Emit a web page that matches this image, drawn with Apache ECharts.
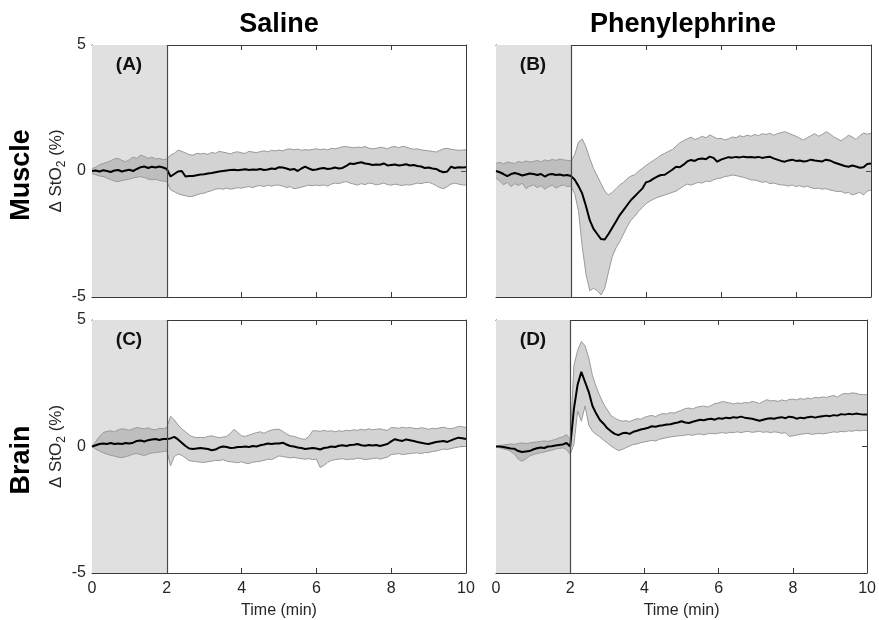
<!DOCTYPE html>
<html>
<head>
<meta charset="utf-8">
<script src="https://cdn.jsdelivr.net/npm/echarts@6/dist/echarts.min.js"></script>
<style>html,body{margin:0;padding:0;background:#fff}#c{width:879px;height:620px}</style>
</head>
<body>
<div id="c"></div>
<script>
// ---- data (ΔStO2 in %, sampled every 0.1 min from 0 to 10 min) ----
const TIME_STEP = 0.1;
const N_SAMPLES = 101;
const X_TICKS = [0, 2, 4, 6, 8, 10];
const Y_TICKS = [-5, 0, 5];
const COL_TITLES = ['Saline', 'Phenylephrine'];
const ROW_TITLES = ['Muscle', 'Brain'];
const PANEL_LABELS = ['(A)', '(B)', '(C)', '(D)'];
const BASELINE_END = 2;

const A_MEAN = [0.00,0.02,-0.02,0.03,0.00,-0.04,0.02,0.04,-0.02,0.02,
0.05,0.00,0.08,0.15,0.18,0.12,0.17,0.14,0.18,0.14,
0.08,-0.22,-0.12,-0.02,0.00,-0.22,-0.20,-0.20,-0.17,-0.14,
-0.13,-0.10,-0.08,-0.05,-0.02,0.00,0.02,0.04,0.05,0.03,
0.05,0.07,0.04,0.06,0.05,0.08,0.04,0.06,0.10,0.08,
0.15,0.14,0.10,0.05,0.08,0.00,0.10,0.17,0.10,0.04,
0.06,0.10,0.12,0.08,0.10,0.14,0.10,0.12,0.20,0.30,
0.28,0.32,0.35,0.30,0.28,0.24,0.26,0.25,0.30,0.22,
0.24,0.26,0.22,0.24,0.27,0.22,0.24,0.20,0.18,0.12,
0.14,0.10,0.08,0.00,-0.05,-0.02,0.17,0.12,0.15,0.14,
0.15];
const A_UPPER = [0.10,0.15,0.25,0.30,0.35,0.40,0.48,0.50,0.42,0.37,
0.45,0.55,0.50,0.63,0.58,0.50,0.55,0.48,0.50,0.45,
0.47,0.63,0.70,0.83,0.78,0.72,0.65,0.63,0.70,0.68,
0.70,0.66,0.74,0.70,0.78,0.75,0.72,0.68,0.74,0.76,
0.72,0.70,0.78,0.75,0.73,0.77,0.80,0.76,0.82,0.80,
0.83,0.80,0.86,0.88,0.84,0.87,0.82,0.85,0.83,0.86,
0.88,0.85,0.87,0.84,0.90,0.88,0.92,0.96,0.97,0.94,
0.92,0.95,0.93,0.97,0.91,0.88,0.90,0.94,0.92,0.88,
0.95,0.97,0.92,0.98,0.95,0.90,0.86,0.88,0.84,0.82,
0.80,0.78,0.75,0.82,0.88,0.90,0.86,0.84,0.82,0.83,
0.84];
const A_LOWER = [-0.10,-0.15,-0.20,-0.22,-0.28,-0.34,-0.40,-0.42,-0.38,-0.35,
-0.32,-0.28,-0.25,-0.22,-0.26,-0.32,-0.35,-0.33,-0.38,-0.40,
-0.42,-0.75,-0.82,-0.90,-0.95,-0.98,-1.02,-1.00,-0.95,-0.90,
-0.88,-0.82,-0.78,-0.72,-0.70,-0.72,-0.68,-0.72,-0.70,-0.66,
-0.68,-0.64,-0.62,-0.66,-0.60,-0.58,-0.62,-0.56,-0.60,-0.56,
-0.56,-0.60,-0.66,-0.62,-0.70,-0.68,-0.64,-0.60,-0.56,-0.58,
-0.56,-0.58,-0.55,-0.60,-0.52,-0.48,-0.50,-0.45,-0.42,-0.48,
-0.52,-0.56,-0.50,-0.54,-0.48,-0.50,-0.55,-0.52,-0.48,-0.54,
-0.56,-0.52,-0.55,-0.58,-0.54,-0.56,-0.52,-0.48,-0.50,-0.46,
-0.45,-0.50,-0.58,-0.66,-0.70,-0.62,-0.52,-0.48,-0.52,-0.55,
-0.56];

const B_MEAN = [0.00,-0.05,-0.12,-0.20,-0.12,-0.08,-0.12,-0.18,-0.14,-0.10,
-0.12,-0.16,-0.12,-0.22,-0.14,-0.12,-0.16,-0.14,-0.18,-0.16,
-0.20,-0.35,-0.60,-0.90,-1.40,-1.95,-2.30,-2.50,-2.70,-2.72,
-2.50,-2.25,-2.00,-1.75,-1.55,-1.35,-1.15,-1.00,-0.85,-0.70,
-0.45,-0.40,-0.30,-0.22,-0.16,-0.15,-0.05,0.05,0.17,0.15,
0.25,0.38,0.44,0.40,0.48,0.50,0.47,0.57,0.52,0.37,
0.45,0.50,0.55,0.53,0.56,0.54,0.57,0.55,0.56,0.54,
0.56,0.52,0.55,0.57,0.50,0.45,0.40,0.37,0.42,0.45,
0.40,0.42,0.38,0.40,0.45,0.42,0.40,0.38,0.45,0.42,
0.35,0.30,0.25,0.20,0.17,0.22,0.18,0.13,0.15,0.28,
0.30];
const B_UPPER = [0.30,0.35,0.28,0.36,0.32,0.30,0.38,0.34,0.40,0.36,
0.38,0.42,0.36,0.44,0.40,0.46,0.42,0.48,0.44,0.42,
0.40,0.65,1.15,1.27,0.95,0.50,0.10,-0.20,-0.50,-0.80,
-0.95,-0.85,-0.70,-0.55,-0.45,-0.30,-0.20,-0.15,0.00,0.10,
0.22,0.32,0.42,0.52,0.63,0.70,0.78,0.85,0.98,1.12,
1.20,1.28,1.34,1.25,1.30,1.38,1.32,1.43,1.36,1.28,
1.30,1.23,1.28,1.35,1.32,1.40,1.36,1.42,1.38,1.45,
1.40,1.48,1.45,1.50,1.42,1.48,1.52,1.56,1.50,1.44,
1.38,1.30,1.23,1.32,1.40,1.48,1.38,1.45,1.56,1.48,
1.36,1.28,1.20,1.30,1.42,1.35,1.25,1.40,1.50,1.46,
1.50];
const B_LOWER = [-0.28,-0.40,-0.55,-0.45,-0.62,-0.50,-0.58,-0.48,-0.70,-0.60,
-0.55,-0.66,-0.58,-0.72,-0.62,-0.56,-0.68,-0.60,-0.55,-0.62,
-0.60,-0.90,-1.60,-3.00,-4.10,-4.75,-4.65,-4.75,-4.92,-4.65,
-4.00,-3.40,-3.05,-2.80,-2.50,-2.20,-1.95,-1.80,-1.60,-1.45,
-1.30,-1.20,-1.12,-1.05,-1.00,-0.95,-0.90,-0.85,-0.80,-0.70,
-0.60,-0.52,-0.56,-0.50,-0.45,-0.48,-0.40,-0.42,-0.35,-0.30,
-0.28,-0.22,-0.20,-0.16,-0.18,-0.22,-0.25,-0.30,-0.35,-0.36,
-0.40,-0.45,-0.42,-0.50,-0.48,-0.52,-0.55,-0.56,-0.60,-0.55,
-0.62,-0.58,-0.64,-0.60,-0.66,-0.70,-0.68,-0.72,-0.70,-0.75,
-0.78,-0.82,-0.80,-0.88,-0.85,-0.95,-0.90,-0.85,-0.95,-0.80,
-0.75];

const C_MEAN = [0.00,0.05,0.10,0.12,0.10,0.14,0.10,0.12,0.10,0.14,
0.12,0.15,0.22,0.24,0.20,0.25,0.28,0.30,0.26,0.30,
0.30,0.32,0.38,0.28,0.15,0.02,-0.08,-0.10,-0.08,-0.06,
-0.08,-0.10,-0.15,-0.12,-0.04,0.00,-0.02,-0.06,-0.05,-0.02,
-0.02,0.00,-0.02,0.02,0.00,0.05,0.08,0.12,0.10,0.12,
0.12,0.15,0.08,0.02,0.00,-0.04,-0.06,-0.10,-0.08,-0.06,
-0.08,-0.12,-0.06,-0.04,0.00,-0.02,0.03,0.05,0.02,0.06,
0.07,0.10,0.05,0.03,0.06,0.04,0.06,0.02,0.06,0.10,
0.20,0.29,0.25,0.22,0.28,0.25,0.22,0.18,0.15,0.12,
0.10,0.14,0.18,0.20,0.22,0.18,0.24,0.30,0.35,0.33,
0.30];
const C_UPPER = [0.00,0.20,0.40,0.55,0.60,0.62,0.58,0.66,0.70,0.68,
0.64,0.70,0.75,0.72,0.70,0.74,0.68,0.66,0.72,0.70,
0.75,1.20,1.05,0.85,0.70,0.58,0.45,0.38,0.35,0.36,
0.35,0.40,0.42,0.38,0.35,0.37,0.40,0.52,0.68,0.55,
0.42,0.40,0.45,0.50,0.55,0.58,0.52,0.60,0.65,0.68,
0.68,0.60,0.50,0.42,0.40,0.35,0.30,0.29,0.40,0.62,
0.62,0.60,0.64,0.60,0.62,0.58,0.62,0.60,0.64,0.62,
0.66,0.64,0.68,0.65,0.70,0.66,0.68,0.70,0.66,0.64,
0.75,0.74,0.72,0.76,0.73,0.75,0.72,0.70,0.74,0.72,
0.68,0.72,0.70,0.74,0.76,0.72,0.70,0.74,0.80,0.78,
0.75];
const C_LOWER = [0.00,-0.10,-0.18,-0.25,-0.30,-0.35,-0.38,-0.42,-0.44,-0.40,
-0.36,-0.30,-0.28,-0.32,-0.36,-0.30,-0.26,-0.24,-0.22,-0.20,
-0.17,-0.76,-0.40,-0.30,-0.35,-0.45,-0.56,-0.58,-0.60,-0.62,
-0.63,-0.60,-0.58,-0.55,-0.56,-0.52,-0.58,-0.60,-0.62,-0.64,
-0.60,-0.66,-0.67,-0.62,-0.60,-0.58,-0.55,-0.50,-0.52,-0.45,
-0.37,-0.40,-0.42,-0.45,-0.43,-0.46,-0.48,-0.50,-0.48,-0.52,
-0.50,-0.83,-0.75,-0.63,-0.55,-0.52,-0.50,-0.48,-0.52,-0.50,
-0.50,-0.46,-0.48,-0.52,-0.50,-0.48,-0.45,-0.50,-0.46,-0.42,
-0.32,-0.30,-0.28,-0.32,-0.30,-0.28,-0.26,-0.25,-0.28,-0.24,
-0.24,-0.20,-0.18,-0.14,-0.10,-0.12,-0.08,-0.05,-0.02,0.00,
0.00];

const D_MEAN = [0.00,0.00,-0.02,-0.05,-0.08,-0.09,-0.18,-0.22,-0.20,-0.18,
-0.12,-0.07,-0.04,-0.06,0.00,0.01,0.04,0.06,0.08,0.14,
0.00,1.50,2.45,2.95,2.55,2.15,1.60,1.30,1.05,0.90,
0.72,0.60,0.50,0.45,0.52,0.54,0.50,0.58,0.62,0.67,
0.70,0.74,0.80,0.78,0.82,0.84,0.87,0.88,0.92,0.95,
1.00,0.95,0.93,0.98,1.02,1.06,1.04,1.08,1.10,1.06,
1.12,1.10,1.14,1.12,1.16,1.14,1.18,1.14,1.12,1.10,
1.06,1.02,1.06,1.10,1.12,1.10,1.14,1.16,1.12,1.18,
1.16,1.10,1.14,1.12,1.16,1.18,1.14,1.18,1.20,1.22,
1.20,1.24,1.22,1.28,1.26,1.29,1.27,1.30,1.28,1.26,
1.26];
const D_UPPER = [0.00,0.04,0.06,0.08,0.10,0.08,0.12,0.14,0.12,0.14,
0.16,0.18,0.20,0.22,0.20,0.24,0.28,0.34,0.38,0.47,
0.28,3.20,3.80,4.15,3.98,3.50,2.80,2.35,2.00,1.68,
1.45,1.22,1.12,1.05,1.00,1.02,0.98,1.05,1.10,1.08,
1.15,1.20,1.23,1.18,1.26,1.30,1.28,1.34,1.32,1.38,
1.43,1.50,1.52,1.48,1.55,1.58,1.60,1.56,1.62,1.70,
1.72,1.78,1.75,1.72,1.68,1.72,1.70,1.74,1.72,1.78,
1.75,1.70,1.78,1.85,1.80,1.82,1.78,1.84,1.80,1.86,
1.87,1.84,1.90,1.86,1.92,1.88,1.95,1.92,1.96,1.94,
1.98,2.02,1.95,2.05,2.10,2.08,2.12,2.10,2.06,2.05,
2.05];
const D_LOWER = [0.00,-0.05,-0.10,-0.12,-0.20,-0.30,-0.50,-0.58,-0.50,-0.38,
-0.32,-0.28,-0.25,-0.22,-0.18,-0.15,-0.10,-0.08,-0.05,-0.12,
-0.31,0.10,1.40,1.00,1.60,0.85,0.60,0.48,0.38,0.25,
0.14,0.02,-0.08,-0.16,-0.12,-0.05,0.02,0.08,0.10,0.15,
0.18,0.21,0.24,0.22,0.28,0.32,0.35,0.38,0.40,0.42,
0.43,0.45,0.47,0.44,0.48,0.50,0.46,0.50,0.52,0.50,
0.53,0.55,0.52,0.56,0.55,0.58,0.55,0.58,0.60,0.56,
0.58,0.60,0.56,0.58,0.55,0.58,0.56,0.52,0.55,0.40,
0.42,0.45,0.48,0.50,0.52,0.48,0.50,0.52,0.50,0.52,
0.55,0.58,0.56,0.60,0.58,0.62,0.60,0.64,0.62,0.64,
0.64];

// ---- build chart ----
const TIME = Array.from({length: N_SAMPLES}, (_, i) => +(i * TIME_STEP).toFixed(1));
const FONT = 'Liberation Sans, Arial, Helvetica, sans-serif';
const AXIS_COLOR = '#3a3a3a';
const TEXT_COLOR = '#262626';
const BAND_FILL = 'rgba(120,120,120,0.33)';
const BAND_EDGE = '#9a9a9a';

const panels = [
  {mean: A_MEAN, upper: A_UPPER, lower: A_LOWER, grid: {left: 92, top: 45, width: 374, height: 252}, xl: false, yl: true},
  {mean: B_MEAN, upper: B_UPPER, lower: B_LOWER, grid: {left: 496, top: 45, width: 375, height: 252}, xl: false, yl: false},
  {mean: C_MEAN, upper: C_UPPER, lower: C_LOWER, grid: {left: 92, top: 320, width: 374, height: 254}, xl: true, yl: true},
  {mean: D_MEAN, upper: D_UPPER, lower: D_LOWER, grid: {left: 496, top: 320, width: 375, height: 254}, xl: true, yl: false}
];

const grids = [], xAxes = [], yAxes = [], series = [];
const tickStyle = {show: true, inside: true, length: 5, lineStyle: {color: AXIS_COLOR, width: 1}};
const lineStyleAxis = {show: true, onZero: false, lineStyle: {color: AXIS_COLOR, width: 1}};

panels.forEach((p, i) => {
  grids.push(Object.assign({containLabel: false, show: false}, p.grid));
  const xBase = {type: 'value', gridIndex: i, min: X_TICKS[0], max: X_TICKS[X_TICKS.length - 1], interval: X_TICKS[1] - X_TICKS[0],
    splitLine: {show: false}, axisLine: lineStyleAxis, axisTick: tickStyle};
  const yBase = {type: 'value', gridIndex: i, min: Y_TICKS[0], max: Y_TICKS[Y_TICKS.length - 1], interval: Y_TICKS[1] - Y_TICKS[0],
    splitLine: {show: false}, axisLine: lineStyleAxis, axisTick: tickStyle};
  xAxes.push(Object.assign({}, xBase, {
    position: 'bottom',
    axisLabel: {show: p.xl, fontSize: 16, color: TEXT_COLOR, fontFamily: FONT, margin: 8},
    name: p.xl ? 'Time (min)' : '', nameLocation: 'middle', nameGap: 30,
    nameTextStyle: {fontSize: 16, color: TEXT_COLOR, fontFamily: FONT}
  }));
  xAxes.push(Object.assign({}, xBase, {position: 'top', axisLabel: {show: false}}));
  yAxes.push(Object.assign({}, yBase, {
    position: 'left',
    axisLabel: {show: p.yl, fontSize: 16, color: TEXT_COLOR, fontFamily: FONT, margin: 6},
    name: p.yl ? '{a|Δ StO}{b|2}{a| (%)}' : '', nameLocation: 'middle', nameGap: 23, nameRotate: 90,
    nameTextStyle: {fontFamily: FONT, color: TEXT_COLOR, rich: {
      a: {fontSize: 17, fontFamily: FONT, color: TEXT_COLOR, lineHeight: 24, verticalAlign: 'middle'},
      b: {fontSize: 12, fontFamily: FONT, color: TEXT_COLOR, lineHeight: 24, verticalAlign: 'bottom'}
    }}
  }));
  yAxes.push(Object.assign({}, yBase, {position: 'right', axisLabel: {show: false}}));

  const xi = i * 2, yi = i * 2;
  series.push({
    type: 'line', xAxisIndex: xi, yAxisIndex: yi, data: [], silent: true,
    markArea: {silent: true, itemStyle: {color: '#e0e0e0', borderWidth: 0},
      data: [[{coord: [X_TICKS[0], Y_TICKS[0]]}, {coord: [BASELINE_END, Y_TICKS[Y_TICKS.length - 1]]}]]},
    markLine: {silent: true, symbol: ['none', 'none'], label: {show: false},
      lineStyle: {color: '#4a4a4a', width: 1.2, type: 'solid'},
      data: [{xAxis: BASELINE_END}]}
  });
  const bandData = TIME.map((t, k) => [t, p.upper[k], p.lower[k]]);
  series.push({
    type: 'custom', xAxisIndex: xi, yAxisIndex: yi, silent: true, animation: false, z: 2,
    encode: {x: 0, y: [1, 2]},
    data: bandData,
    renderItem: function (params, api) {
      if (params.dataIndex !== 0) return null;
      const up = bandData.map(d => api.coord([d[0], d[1]]));
      const lo = bandData.map(d => api.coord([d[0], d[2]])).reverse();
      return {type: 'polygon', shape: {points: up.concat(lo)}, style: {fill: BAND_FILL, stroke: null}};
    }
  });
  series.push({
    type: 'line', xAxisIndex: xi, yAxisIndex: yi, symbol: 'none', silent: true, animation: false, z: 3,
    lineStyle: {color: BAND_EDGE, width: 1},
    data: TIME.map((t, k) => [t, p.upper[k]])
  });
  series.push({
    type: 'line', xAxisIndex: xi, yAxisIndex: yi, symbol: 'none', silent: true, animation: false, z: 3,
    lineStyle: {color: BAND_EDGE, width: 1},
    data: TIME.map((t, k) => [t, p.lower[k]])
  });
  series.push({
    type: 'line', xAxisIndex: xi, yAxisIndex: yi, symbol: 'none', silent: true, animation: false, z: 4,
    lineStyle: {color: '#000', width: 2},
    data: TIME.map((t, k) => [t, p.mean[k]])
  });
});

const graphics = [];
const colCenters = [279, 683];
COL_TITLES.forEach((t, i) => graphics.push({type: 'text', x: colCenters[i], y: 25, z: 100,
  style: {text: t, font: 'bold 27px ' + FONT, fill: '#000', align: 'center', verticalAlign: 'middle'}}));
const rowCenters = [175, 460];
ROW_TITLES.forEach((t, i) => graphics.push({type: 'text', x: 22, y: rowCenters[i], rotation: Math.PI / 2, z: 100,
  style: {text: t, font: 'bold 27px ' + FONT, fill: '#000', align: 'center', verticalAlign: 'middle'}}));
PANEL_LABELS.forEach((t, i) => {
  const g = panels[i].grid;
  graphics.push({type: 'text', x: g.left + 37, y: g.top + 20, z: 100,
    style: {text: t, font: 'bold 19px ' + FONT, fill: '#111', align: 'center', verticalAlign: 'middle'}});
});

const chart = echarts.init(document.getElementById('c'), null, {renderer: 'canvas'});
chart.setOption({
  animation: false,
  backgroundColor: '#fff',
  grid: grids,
  xAxis: xAxes,
  yAxis: yAxes,
  series: series,
  graphic: graphics
});
</script>
</body>
</html>
